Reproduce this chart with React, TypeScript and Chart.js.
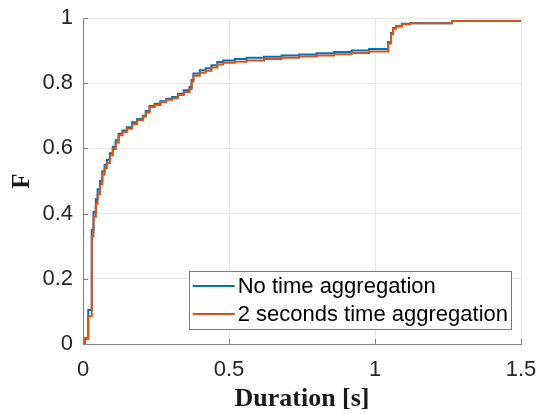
import React, { useEffect, useRef } from "react";
import { Chart, registerables } from "chart.js";

Chart.register(...registerables);

// Durations [s] at which the empirical CDFs step
const durations = [
  0, 0.007, 0.018, 0.03, 0.036, 0.044, 0.05, 0.058, 0.066, 0.074, 0.082, 0.092,
  0.102, 0.112, 0.122, 0.135, 0.15, 0.168, 0.185, 0.205, 0.215, 0.228, 0.245,
  0.265, 0.285, 0.305, 0.325, 0.345, 0.365, 0.372, 0.378, 0.4, 0.42, 0.44, 0.46,
  0.48, 0.52, 0.56, 0.62, 0.68, 0.74, 0.8, 0.86, 0.92, 0.98, 1.045, 1.055, 1.062,
  1.072, 1.092, 1.12, 1.264, 1.5,
];

const fNoAggregation = [
  0, 0.018, 0.104, 0.35, 0.405, 0.445, 0.475, 0.5, 0.53, 0.55, 0.565, 0.585,
  0.605, 0.625, 0.645, 0.655, 0.665, 0.68, 0.69, 0.7, 0.715, 0.73, 0.737, 0.745,
  0.752, 0.758, 0.768, 0.778, 0.788, 0.81, 0.83, 0.84, 0.846, 0.855, 0.865,
  0.87, 0.874, 0.878, 0.881, 0.885, 0.888, 0.892, 0.896, 0.9, 0.905, 0.926,
  0.954, 0.969, 0.975, 0.982, 0.984, 0.991, 0.991,
];

const fTwoSecAggregation = [
  0, 0.015, 0.085, 0.33, 0.39, 0.43, 0.46, 0.49, 0.52, 0.54, 0.555, 0.578,
  0.598, 0.618, 0.64, 0.65, 0.66, 0.675, 0.686, 0.697, 0.71, 0.727, 0.733,
  0.742, 0.749, 0.754, 0.764, 0.773, 0.782, 0.805, 0.823, 0.832, 0.838, 0.848,
  0.857, 0.863, 0.866, 0.87, 0.874, 0.878, 0.882, 0.885, 0.889, 0.893, 0.897,
  0.922, 0.95, 0.967, 0.974, 0.981, 0.984, 0.991, 0.991,
];

const seriesLabels = ["No time aggregation", "2 seconds time aggregation"];
const seriesColors = ["#0072BD", "#D95319"];
const xAxisTitle = "Duration [s]";
const yAxisTitle = "F";

const AXIS_COLOR = "#808080";
const TEXT_COLOR = "#262626";
const SANS = "'Liberation Sans', Arial, sans-serif";
const SERIF = "'Liberation Serif', 'Times New Roman', serif";

const inwardTicks = {
  id: "inwardTicks",
  beforeDatasetsDraw(chart: any) {
    const { ctx, chartArea, scales } = chart;
    ctx.save();
    ctx.strokeStyle = AXIS_COLOR;
    ctx.lineWidth = 1;
    const xs = scales.x;
    xs.ticks.forEach((_t: any, i: number) => {
      const px = Math.round(xs.getPixelForTick(i)) + 0.5;
      ctx.beginPath();
      ctx.moveTo(px, chartArea.bottom);
      ctx.lineTo(px, chartArea.bottom - 5);
      ctx.stroke();
    });
    const ys = scales.y;
    ys.ticks.forEach((_t: any, i: number) => {
      const py = Math.round(ys.getPixelForTick(i)) + 0.5;
      ctx.beginPath();
      ctx.moveTo(chartArea.left, py);
      ctx.lineTo(chartArea.left + 5, py);
      ctx.stroke();
    });
    ctx.restore();
  },
};

const boxedLegend = {
  id: "boxedLegend",
  afterDraw(chart: any) {
    const { ctx, chartArea } = chart;
    const datasets = chart.data.datasets;
    ctx.save();
    ctx.font = `22px ${SANS}`;
    let maxW = 0;
    datasets.forEach((d: any) => {
      maxW = Math.max(maxW, ctx.measureText(d.label).width);
    });
    const padL = 4;
    const lineLen = 42;
    const gap = 3;
    const padR = 3;
    const rowH = 28;
    const padV = 1;
    const w = padL + lineLen + gap + maxW + padR;
    const h = padV * 2 + rowH * datasets.length;
    const right = chartArea.right - 10;
    const bottom = chartArea.bottom - 15;
    const left = right - w;
    const top = bottom - h;
    ctx.fillStyle = "#ffffff";
    ctx.fillRect(left, top, w, h);
    ctx.strokeStyle = "#7a7a7a";
    ctx.lineWidth = 1;
    ctx.strokeRect(Math.round(left) + 0.5, Math.round(top) + 0.5, Math.round(w), Math.round(h));
    datasets.forEach((d: any, i: number) => {
      const cy = top + padV + rowH * i + rowH / 2;
      ctx.strokeStyle = d.borderColor;
      ctx.lineWidth = 2;
      ctx.beginPath();
      ctx.moveTo(left + padL, cy);
      ctx.lineTo(left + padL + lineLen, cy);
      ctx.stroke();
      ctx.fillStyle = "#000000";
      ctx.textBaseline = "middle";
      ctx.textAlign = "left";
      ctx.fillText(d.label, left + padL + lineLen + gap, cy + 1);
    });
    ctx.restore();
  },
};

const fmt = (v: any) => String(Math.round(Number(v) * 100) / 100);

export default function App() {
  const canvasRef = useRef<HTMLCanvasElement | null>(null);

  useEffect(() => {
    document.body.style.margin = "0";
    const canvas = canvasRef.current;
    if (!canvas) return;
    const toPoints = (ys: number[]) => durations.map((x, i) => ({ x, y: ys[i] }));
    const chart = new Chart(canvas, {
      type: "line",
      data: {
        datasets: [
          {
            label: seriesLabels[0],
            data: toPoints(fNoAggregation),
            borderColor: seriesColors[0],
            backgroundColor: seriesColors[0],
            borderWidth: 2,
            pointRadius: 0,
            stepped: true,
            fill: false,
            order: 1,
          },
          {
            label: seriesLabels[1],
            data: toPoints(fTwoSecAggregation),
            borderColor: seriesColors[1],
            backgroundColor: seriesColors[1],
            borderWidth: 2,
            pointRadius: 0,
            stepped: true,
            fill: false,
            order: 0,
          },
        ],
      },
      options: {
        animation: false,
        responsive: false,
        maintainAspectRatio: false,
        devicePixelRatio: 1,
        layout: { padding: { left: 0, right: 18, top: 18, bottom: 0 } },
        plugins: {
          legend: { display: false },
          tooltip: { enabled: false },
        },
        scales: {
          x: {
            type: "linear",
            min: 0,
            max: 1.5,
            afterFit: (s: any) => {
              s.height = 70;
              s.paddingLeft = 0;
              s.paddingRight = 0;
            },
            ticks: {
              stepSize: 0.5,
              padding: 13,
              color: TEXT_COLOR,
              font: { family: SANS, size: 22 },
              maxRotation: 0,
              callback: fmt,
            },
            grid: { color: "#e6e6e6", drawTicks: false },
            border: { color: AXIS_COLOR, width: 1 },
            title: {
              display: true,
              text: xAxisTitle,
              color: "#1a1a1a",
              font: { family: SERIF, size: 26, weight: "bold" },
              padding: { top: 0, bottom: -1 },
            },
          },
          y: {
            type: "linear",
            min: 0,
            max: 1,
            afterFit: (s: any) => {
              s.width = 83;
              s.paddingTop = 0;
              s.paddingBottom = 0;
            },
            ticks: {
              stepSize: 0.2,
              padding: 10,
              color: TEXT_COLOR,
              font: { family: SANS, size: 22 },
              callback: fmt,
            },
            grid: { color: "#e6e6e6", drawTicks: false },
            border: { color: AXIS_COLOR, width: 1 },
            title: {
              display: true,
              text: yAxisTitle,
              color: "#1a1a1a",
              font: { family: SERIF, size: 25, weight: "bold" },
              padding: { top: 8, bottom: 0 },
            },
          },
        },
      },
      plugins: [inwardTicks, boxedLegend],
    });
    return () => chart.destroy();
  }, []);

  return (
    <div style={{ width: 539, height: 414 }}>
      <canvas ref={canvasRef} width={539} height={414} style={{ display: "block" }} />
    </div>
  );
}
